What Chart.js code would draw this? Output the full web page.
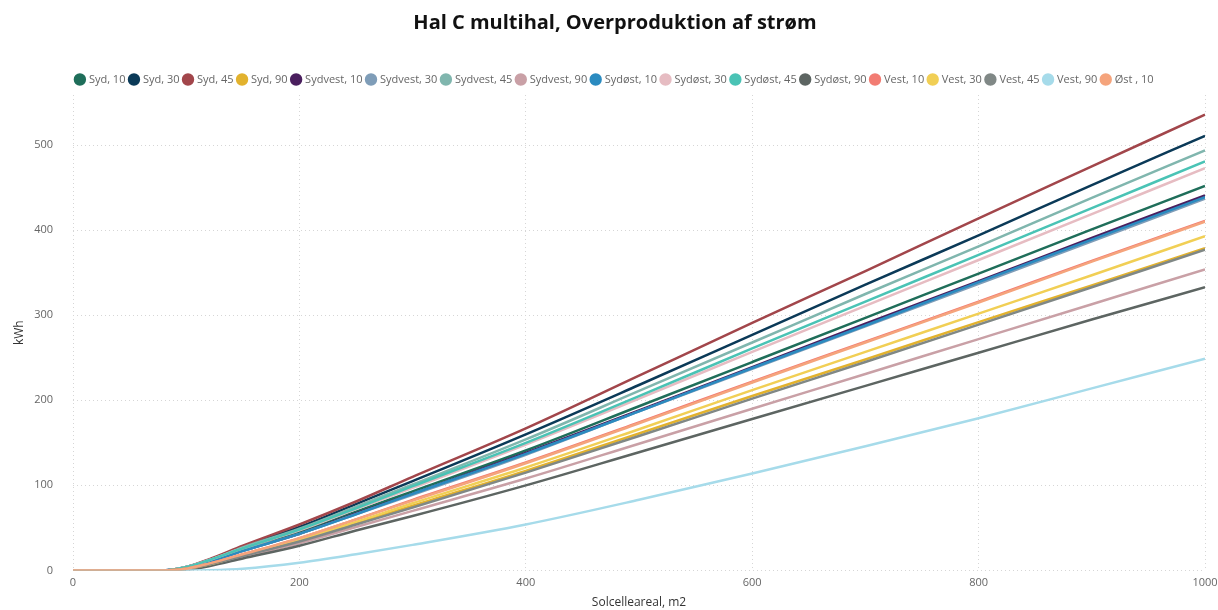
<!DOCTYPE html>
<html>
<head>
<meta charset="utf-8">
<script src="https://cdn.jsdelivr.net/npm/chart.js@4"></script>
<style>
  html, body { margin: 0; padding: 0; background: #fff; }
  #wrap { width: 1218px; height: 610px; position: relative; }
</style>
</head>
<body>
<div id="wrap"><canvas id="lineChart"></canvas></div>
<script>
// Areal (m2) paa x-aksen
var areal = [0, 50, 80, 100, 120, 150, 200, 250, 300, 400, 500, 600, 700, 800, 900, 1000];

// Overproduktion (kWh) pr. retning/haeldning
var syd10       = [0, 0, 0, 3, 11, 24, 45, 69, 93, 141, 193, 245, 297, 349, 401, 452];
var syd30       = [0, 0, 0, 4, 12, 28, 51, 78, 105, 160, 218, 277, 336, 394, 453, 511];
var syd45       = [0, 0, 0, 4, 13, 29, 54, 81, 110, 167, 229, 291, 352, 414, 475, 536];
var syd90       = [0, 0, 0, 2, 7, 18, 35, 55, 76, 117, 161, 205, 248, 292, 335, 379];
var sydvest10   = [0, 0, 0, 3, 10, 23, 43, 67, 90, 138, 188, 239, 290, 340, 391, 441];
var sydvest30   = [0, 0, 0, 3, 10, 23, 43, 66, 89, 136, 187, 237, 287, 337, 387, 437];
var sydvest45   = [0, 0, 0, 4, 12, 27, 49, 75, 101, 154, 211, 268, 325, 381, 438, 494];
var sydvest90   = [0, 0, 0, 2, 6, 16, 32, 51, 70, 108, 149, 190, 231, 272, 313, 354];
var sydost10    = [0, 0, 0, 3, 10, 23, 43, 66, 90, 137, 187, 238, 288, 339, 389, 439];
var sydost30    = [0, 0, 0, 4, 12, 26, 47, 72, 97, 148, 202, 257, 311, 365, 419, 473];
var sydost45    = [0, 0, 0, 4, 12, 26, 48, 73, 99, 150, 205, 261, 316, 371, 426, 481];
var sydost90    = [0, 0, 0, 1, 5, 14, 29, 47, 64, 100, 139, 178, 217, 256, 295, 333];
var vest10      = [0, 0, 0, 2, 8, 19, 38, 60, 83, 127, 174, 222, 269, 316, 364, 411];
var vest30      = [0, 0, 0, 2, 7, 18, 36, 57, 79, 121, 166, 212, 257, 302, 347, 393];
var vest45      = [0, 0, 0, 2, 7, 17, 34, 54, 74, 115, 158, 202, 245, 289, 333, 377];
var vest90      = [0, 0, 0, 0, 0.3, 2, 9, 19, 30, 54, 83, 114, 146, 179, 214, 249];
var ost10       = [0, 0, 0, 2, 8, 19, 38, 60, 82, 126, 173, 221, 268, 315, 363, 410];

var serieNavne = ["Syd, 10", "Syd, 30", "Syd, 45", "Syd, 90", "Sydvest, 10", "Sydvest, 30",
    "Sydvest, 45", "Sydvest, 90", "Sydøst, 10", "Sydøst, 30", "Sydøst, 45", "Sydøst, 90",
    "Vest, 10", "Vest, 30", "Vest, 45", "Vest, 90", "Øst , 10"];
var serieData = [syd10, syd30, syd45, syd90, sydvest10, sydvest30, sydvest45, sydvest90,
    sydost10, sydost30, sydost45, sydost90, vest10, vest30, vest45, vest90, ost10];
var farver = ["#1f6e5a", "#0b3a58", "#a2464b", "#e2b22e", "#4a1f5e", "#7f9db8",
    "#80b6ae", "#c9a0a6", "#2b8bc0", "#e6bcc2", "#4ac3b5", "#5d6562",
    "#f27c73", "#f1cf55", "#808886", "#a6dbea", "#f5a47c"];

var yTicks = [0, 100, 200, 300, 400, 500];
var xTicks = [0, 200, 400, 600, 800, 1000];

var datasets = serieNavne.map(function (navn, i) {
    return {
        label: navn,
        data: areal.map(function (x, j) { return { x: x, y: serieData[i][j] }; }),
        borderColor: farver[i],
        backgroundColor: farver[i],
        borderWidth: 2.5,
        pointRadius: 0,
        fill: false,
        cubicInterpolationMode: 'monotone',
        order: -i
    };
});

Chart.defaults.font.family = "'Open Sans', sans-serif";
Chart.defaults.color = '#666';

var ctx = document.getElementById('lineChart').getContext('2d');
new Chart(ctx, {
    type: 'line',
    data: { datasets: datasets },
    options: {
        responsive: true,
        maintainAspectRatio: false,
        animation: false,
        layout: { padding: { left: 12, right: 0, top: 9, bottom: 0 } },
        plugins: {
            title: {
                display: true,
                text: 'Hal C multihal, Overproduktion af strøm',
                color: '#111',
                font: { size: 20, weight: 'bold' },
                padding: { top: 2, bottom: 34 }
            },
            legend: {
                position: 'top',
                labels: {
                    usePointStyle: true,
                    pointStyle: 'circle',
                    boxWidth: 7,
                    boxHeight: 7,
                    padding: 5,
                    color: '#666',
                    font: { size: 11 },
                    sort: function (a, b) { return a.datasetIndex - b.datasetIndex; }
                }
            },
            tooltip: { enabled: false }
        },
        scales: {
            x: {
                type: 'linear',
                min: 0,
                max: 1000,
                afterBuildTicks: function (axis) {
                    axis.ticks = xTicks.map(function (v) { return { value: v }; });
                },
                afterFit: function (axis) { axis.paddingRight = 13; },
                grid: { color: '#d6d6d6', lineWidth: 1, drawTicks: false },
                border: { display: false, dash: [1, 3] },
                ticks: {
                    padding: 6, font: { size: 11 }, color: '#666', maxRotation: 0,
                    callback: function (v) { return String(v); }
                },
                title: { display: true, text: 'Solcelleareal, m2', color: '#333', font: { size: 12 }, padding: { top: 0, bottom: 0 } }
            },
            y: {
                min: 0,
                max: 559,
                afterBuildTicks: function (axis) {
                    axis.ticks = yTicks.map(function (v) { return { value: v }; });
                },
                afterFit: function (axis) { axis.width = 61; },
                grid: { color: '#d6d6d6', lineWidth: 1, drawTicks: false },
                border: { display: false, dash: [1, 3] },
                ticks: { padding: 20, font: { size: 11 }, color: '#666' },
                title: { display: true, text: 'kWh', color: '#333', font: { size: 12 }, padding: { top: 0, bottom: 0 } }
            }
        }
    }
});
</script>
</body>
</html>
